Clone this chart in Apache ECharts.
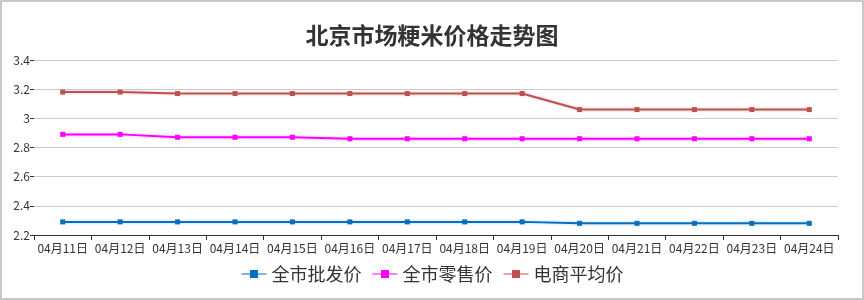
<!DOCTYPE html>
<html><head><meta charset="utf-8">
<script src="https://cdn.jsdelivr.net/npm/echarts@6/dist/echarts.min.js"></script>
<style>
html,body{margin:0;padding:0;background:#fff;}
#wrap{position:absolute;left:0;top:0;width:860px;height:296px;border:2px solid #c8c8c8;}
#c{width:860px;height:296px;}
</style></head>
<body><div id="wrap"><div id="c"></div></div>
<script>
const titleText = '北京市场粳米价格走势图';
const categories = ['04月11日','04月12日','04月13日','04月14日','04月15日','04月16日','04月17日','04月18日','04月19日','04月20日','04月21日','04月22日','04月23日','04月24日'];
const seriesNames = ['全市批发价','全市零售价','电商平均价'];
const wholesale = [2.29,2.29,2.29,2.29,2.29,2.29,2.29,2.29,2.29,2.28,2.28,2.28,2.28,2.28];
const retail = [2.89,2.89,2.87,2.87,2.87,2.86,2.86,2.86,2.86,2.86,2.86,2.86,2.86,2.86];
const ecommerce = [3.18,3.18,3.17,3.17,3.17,3.17,3.17,3.17,3.17,3.06,3.06,3.06,3.06,3.06];
const colors = ['#0070c0','#ff00ff','#c0504d'];
const legendLineColors = ['#7fb5e0','#ff80ff','#e0a8a6'];
const font = '"Noto Sans CJK SC","Noto Sans",sans-serif';
const chart = echarts.init(document.getElementById('c'));
const mk = (name, data, color) => ({
  name, type:'line', data, symbol:'rect', symbolSize:5,
  itemStyle:{color}, lineStyle:{width:2,color,shadowColor:color+'55',shadowBlur:3},
  animation:false
});
chart.setOption({
  textStyle:{fontFamily:font},
  title:{text:titleText,left:'center',top:17,textStyle:{fontSize:23,fontWeight:'bold',color:'#333',fontFamily:font}},
  legend:{bottom:10,left:'center',itemGap:10,itemWidth:25,itemHeight:10,
    textStyle:{fontSize:18,color:'#333',fontFamily:font},
    data:seriesNames.map((n,i)=>({name:n,lineStyle:{color:legendLineColors[i]}}))},
  grid:{left:32,right:24,top:58,bottom:63},
  xAxis:{type:'category',data:categories,boundaryGap:true,
    axisLine:{lineStyle:{color:'#333',width:1}},
    axisTick:{show:true,lineStyle:{color:'#333'}},
    axisLabel:{fontSize:12,color:'#333',margin:7,interval:0,fontFamily:font}},
  yAxis:{type:'value',min:2.2,max:3.4,interval:0.2,
    axisLine:{show:false},
    axisTick:{show:true,length:4,lineStyle:{color:'#333'}},
    axisLabel:{fontSize:12,color:'#333',margin:4,fontFamily:font,formatter:v=>String(+v.toFixed(1))},
    splitLine:{lineStyle:{color:'#cccccc'}}},
  series:[mk(seriesNames[0],wholesale,colors[0]),mk(seriesNames[1],retail,colors[1]),mk(seriesNames[2],ecommerce,colors[2])]
});
</script></body></html>
